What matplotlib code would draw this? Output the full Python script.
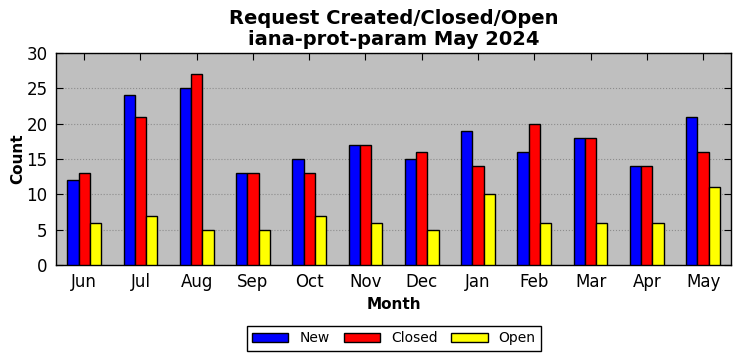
import matplotlib
matplotlib.use("Agg")
import matplotlib.pyplot as plt
import numpy as np

months = ["Jun", "Jul", "Aug", "Sep", "Oct", "Nov", "Dec", "Jan", "Feb", "Mar", "Apr", "May"]
new = [12, 24, 25, 13, 15, 17, 15, 19, 16, 18, 14, 21]
closed = [13, 21, 27, 13, 13, 17, 16, 14, 20, 18, 14, 16]
open_ = [6, 7, 5, 5, 7, 6, 5, 10, 6, 6, 6, 11]

fig = plt.figure(figsize=(7.42, 3.61), dpi=100)
ax = fig.add_axes([0.0755, 0.266, 0.91, 0.587])
ax.set_facecolor("#bfbfbf")
x = np.arange(len(months))
w = 0.2
ax.bar(x - w, new, w, color="blue", edgecolor="black", linewidth=1, label="New", zorder=3)
ax.bar(x, closed, w, color="red", edgecolor="black", linewidth=1, label="Closed", zorder=3)
ax.bar(x + w, open_, w, color="yellow", edgecolor="black", linewidth=1, label="Open", zorder=3)

ax.set_xlim(-0.5, 11.5)
ax.set_ylim(0, 30)
ax.set_yticks(range(0, 31, 5))
ax.set_xticks(x)
ax.set_xticklabels(months)
ax.tick_params(direction="in", top=True, right=True, labelsize=12, length=5, pad=6)
ax.yaxis.grid(True, linestyle=":", color="#8c8c8c", linewidth=0.8, zorder=0)
ax.set_axisbelow(True)
for s in ax.spines.values():
    s.set_linewidth(1)
ax.set_xlabel("Month", fontsize=11, fontweight="bold")
ax.set_ylabel("Count", fontsize=11, fontweight="bold", labelpad=1)
ax.set_title("Request Created/Closed/Open\niana-prot-param May 2024", fontsize=14, fontweight="bold", linespacing=1.1)
leg = fig.legend(loc="center", bbox_to_anchor=(0.531, 0.063),
                 ncol=3, fontsize=10, fancybox=False,
                 edgecolor="black", framealpha=1, handlelength=2.6, handleheight=0.7, columnspacing=1.0,
                 handletextpad=0.8, borderpad=0.4)
leg.get_frame().set_linewidth(1)
fig.savefig("out.png", dpi=100)
